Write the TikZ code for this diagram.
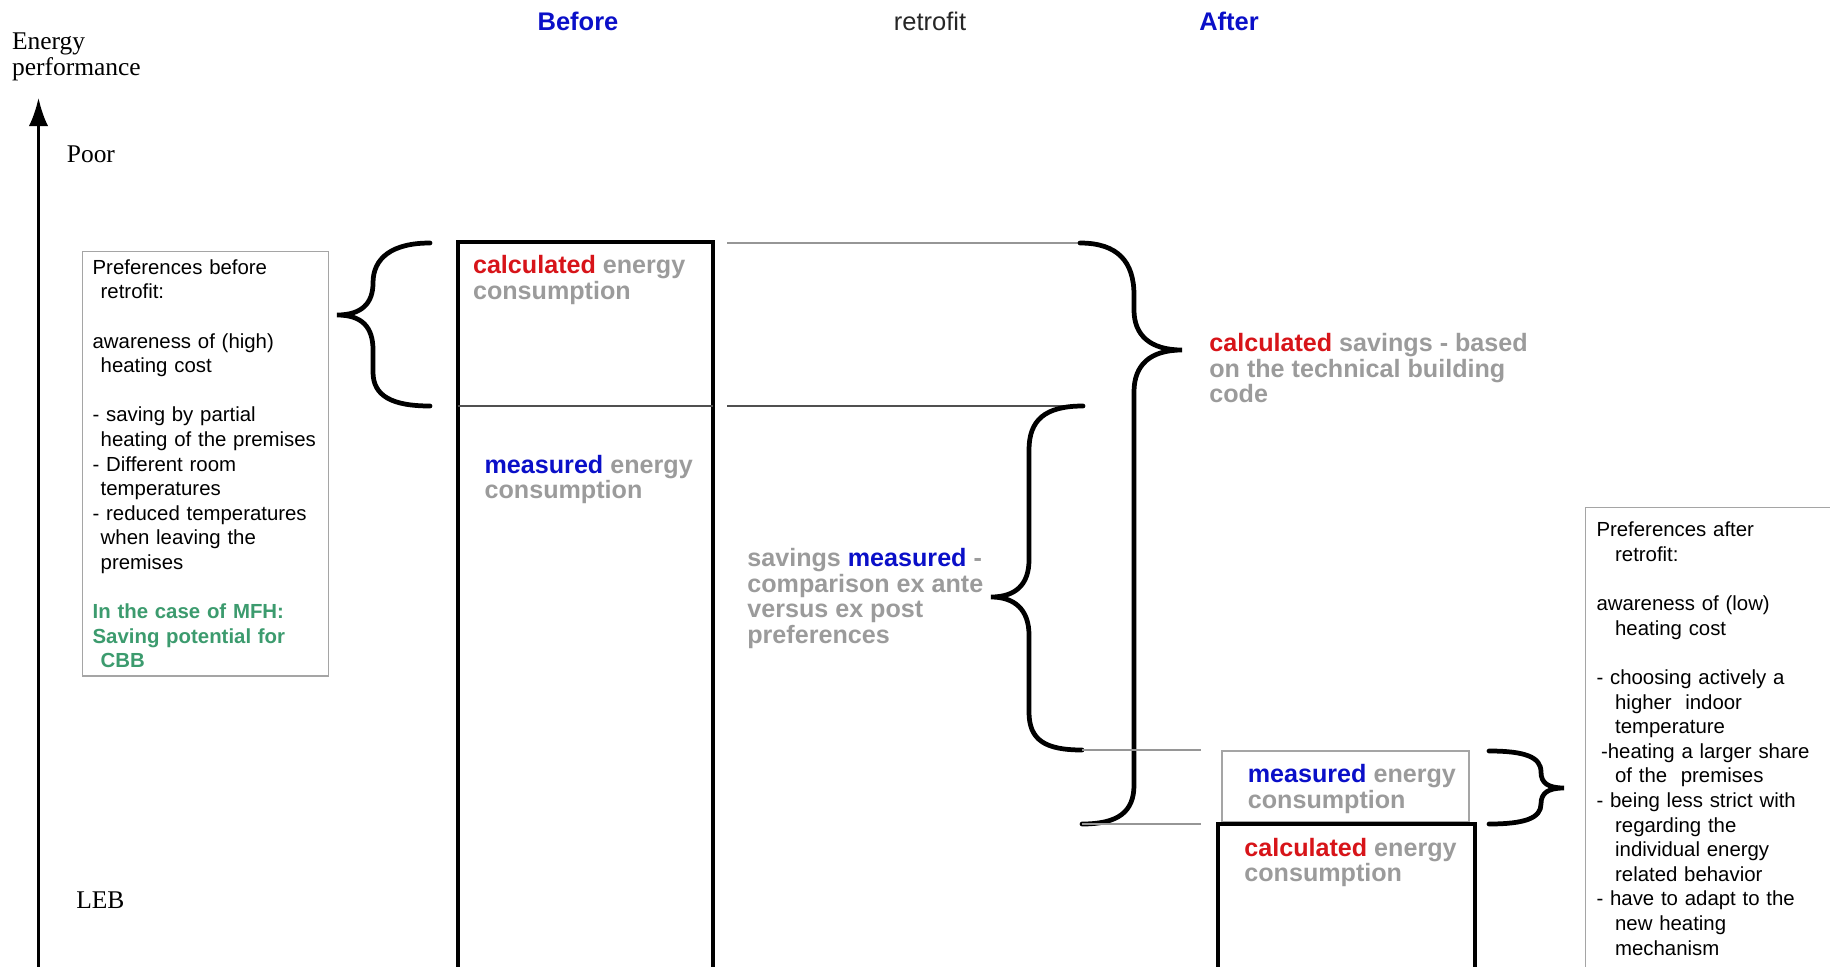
\documentclass[tikz,border=0pt]{standalone}
\usepackage{fontspec}
\setmainfont{Liberation Serif}
\setsansfont{Liberation Sans}
\usetikzlibrary{arrows.meta, positioning}
\definecolor{calcred}{RGB}{215,20,25}
\definecolor{measblue}{RGB}{10,15,200}
\definecolor{labelgray}{RGB}{155,155,155}
\definecolor{mfhgreen}{RGB}{60,155,110}
\definecolor{framegray}{RGB}{165,165,165}
\definecolor{levelgray}{RGB}{150,150,150}
\definecolor{darklevel}{RGB}{80,80,80}
\newcommand{\calctxt}{\textcolor{calcred}{calculated}}
\newcommand{\meastxt}{\textcolor{measblue}{measured}}
\tikzset{%
	header/.style={
		font=\sffamily\bfseries\fontsize{14.5}{17}\selectfont,
		text=measblue,
		anchor=base
	},
	axislabel/.style={
		font=\fontsize{14.5}{14.5}\selectfont,
		align=left,
		inner sep=0pt
	},
	barlabel/.style={
		font=\sffamily\bfseries\fontsize{14.3}{14.6}\selectfont,
		text=labelgray,
		align=left,
		anchor=north west,
		inner sep=0pt
	},
	prefbox/.style={
		draw=framegray,
		line width=0.7pt,
		anchor=north west,
		align=left,
		font=\sffamily\fontsize{11.6}{14}\selectfont
	},
	bar/.style={
		draw,
		line width=2.7pt,
		anchor=north west,
		inner sep=0pt,
		outer sep=0pt
	},
	brace/.style={
		line width=2.7pt,
		line cap=round
	},
	level/.style={
		draw=levelgray,
		line width=0.7pt
	},
}
\begin{document}
\begin{tikzpicture}[x=0.02cm, y=-0.02cm]
	\clip (0,0) rectangle (1830,967);
	
	% Axis
	\coordinate (axisfoot) at (38.5,990);
	\coordinate (axistip) at (38.5,98);
	\draw[-{Latex[length=16pt,width=11pt]}, line width=1.5pt] (axisfoot) -- (axistip);
	\node[axislabel, anchor=north west] (energy) at (11.7,32.6) {Energy\\performance};
	\node[axislabel, anchor=base west] (poor) at (66.5,162.5) {Poor};
	\node[axislabel, anchor=base west] (leb) at (76,908.5) {LEB};
	
	% Headers
	\node[header] (before) at (578,30.2) {Before};
	\node[header, font=\sffamily\fontsize{14.5}{17}\selectfont, text=black!85] (retrofit) at (930,30.2) {retrofit};
	\node[header] (after) at (1229,30.2) {After};
	
	% Levels
	\coordinate (calcA) at (727,243);
	\coordinate (calcB) at (1080,243);
	\coordinate (measA) at (727,406);
	\coordinate (measB) at (1083,406);
	\coordinate (mafA) at (1082,750);
	\coordinate (mafB) at (1201,750);
	\coordinate (cafA) at (1082,824);
	\coordinate (cafB) at (1201,824);
	
	% Before retrofit
	\node[bar, minimum width=5.1cm, minimum height=15.5cm] (beforebar) at (458,242) {};
	\draw[line width=0.7pt, darklevel] (beforebar.west |- measA) -- (beforebar.east |- measA);
	\node[barlabel] (calcbefore) at (472.7,255) {\calctxt{} energy\\consumption};
	\node[barlabel] (measbefore) at (484.3,454.5) {\meastxt{} energy\\consumption};
	\draw[level] (calcA) -- (calcB);
	\draw[level, draw=darklevel] (measA) -- (measB);
	
	% Preferences before
	\node[prefbox, inner xsep=5.7pt, inner ysep=4.5pt, text width=128.6pt] (prefbefore) at (82,251) {%
		Preferences before\\
		\hspace*{4.6pt}retrofit:\\[14pt]
		awareness of (high)\\
		\hspace*{4.6pt}heating cost\\[14pt]
		- saving by partial\\
		\hspace*{4.6pt}heating of the premises\\
		- Different room\\
		\hspace*{4.6pt}temperatures\\
		- reduced temperatures\\
		\hspace*{4.6pt}when leaving the\\
		\hspace*{4.6pt}premises\\[14pt]
		{\bfseries\color{mfhgreen}In the case of MFH:\\
		Saving potential for\\
		\hspace*{4.6pt}CBB}};
	\draw[brace] (430,243) .. controls (392,243) and (373,258) .. (373,283) .. controls (373,303) and (362,315) .. (337,315) .. controls (362,315) and (373,327) .. (373,350) -- (373,372) .. controls (373,396) and (392,406) .. (430,406);
	
	% Savings
	\draw[brace] (measB) .. controls (1045,406) and (1029,420) .. (1029,450) -- (1029,560) .. controls (1029,585) and (1015,597) .. (991,597) .. controls (1015,597) and (1029,610) .. (1029,635) -- (1029,712) .. controls (1029,740) and (1045,750) .. (mafA);
	\node[barlabel] (savmeas) at (747,548) {savings \meastxt{} -\\comparison ex ante\\versus ex post\\preferences};
	\draw[brace] (calcB) .. controls (1118,243) and (1134,262) .. (1134,295) -- (1134,310) .. controls (1134,335) and (1150,350) .. (1182,350) .. controls (1150,350) and (1134,365) .. (1134,392) -- (1134,785) .. controls (1134,812) and (1118,824) .. (cafA);
	\node[barlabel] (calcsav) at (1209,333) {\calctxt{} savings - based\\on the technical building\\code};
	\draw[level] (mafA) -- (mafB);
	\draw[level] (cafA) -- (cafB);
	
	% After retrofit
	\node[bar, draw=framegray, line width=0.7pt, minimum width=4.94cm, minimum height=1.42cm] (measbox) at (1222,751) {};
	\node[barlabel] (measafter) at (1247.5,764) {\meastxt{} energy\\consumption};
	\node[bar, minimum width=5.14cm, minimum height=4cm] (afterbar) at (1218,824) {};
	\node[barlabel] (calcafter) at (1244,837.5) {\calctxt{} energy\\consumption};
	\draw[brace] (1489,751) .. controls (1525,751) and (1541,757) .. (1541,772) .. controls (1541,783) and (1548,788) .. (1564,788) .. controls (1548,788) and (1541,793) .. (1541,804) .. controls (1541,818) and (1525,824) .. (1489,824);
	
	% Preferences after
	\node[prefbox, inner xsep=6.2pt, inner ysep=8.3pt, text width=138pt] (prefafter) at (1585,507) {%
		Preferences after\\
		\hspace*{10.6pt}retrofit:\\[14pt]
		awareness of (low)\\
		\hspace*{10.6pt}heating cost\\[14pt]
		- choosing actively a\\
		\hspace*{10.6pt}higher\ \ indoor\\
		\hspace*{10.6pt}temperature\\
		\hspace*{2.6pt}-heating a larger share\\
		\hspace*{10.6pt}of the\ \ premises\\
		- being less strict with\\
		\hspace*{10.6pt}regarding the\\
		\hspace*{10.6pt}individual energy\\
		\hspace*{10.6pt}related behavior\\
		- have to adapt to the\\
		\hspace*{10.6pt}new heating\\
		\hspace*{10.6pt}mechanism};
	
\end{tikzpicture}
\end{document}
